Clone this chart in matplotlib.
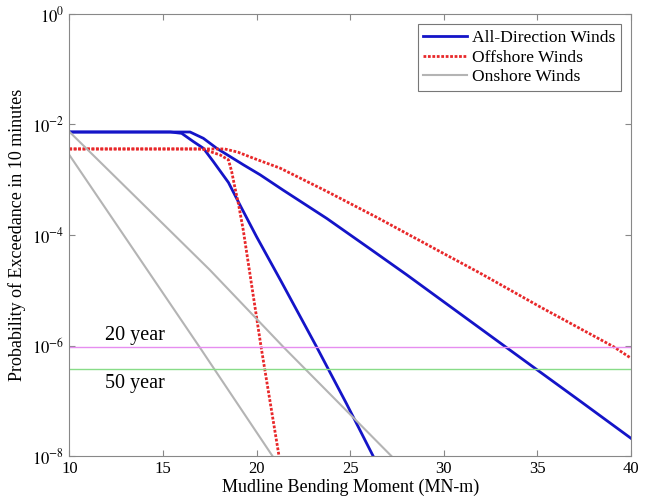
import matplotlib
matplotlib.use("Agg")
import matplotlib.pyplot as plt
import numpy as np

plt.rcParams['font.family'] = ['Liberation Serif', 'DejaVu Serif']
plt.rcParams['mathtext.fontset'] = 'stix'

# all-direction winds (two curves), values as log10 of probability
alldir_steep_x = [10, 15.4, 16.0, 16.63, 17.16, 17.69, 18.5, 19.12, 20.0, 21.3, 23.2, 24.8, 26.3]
alldir_steep_e = [-2.136, -2.136, -2.16, -2.31, -2.43, -2.67, -3.05, -3.46, -4.03, -4.83, -6.02, -7.05, -8.05]
alldir_flat_x = [10, 16.45, 17.16, 17.87, 19.3, 20.19, 21.43, 23.75, 26.06, 28.02, 29.8, 33.2, 34.7, 37.3, 40]
alldir_flat_e = [-2.136, -2.136, -2.25, -2.43, -2.73, -2.91, -3.19, -3.70, -4.25, -4.72, -5.16, -6.0, -6.37, -7.01, -7.68]

# offshore winds
off_steep_x = [10, 17.1, 18.05, 18.5, 18.67, 18.85, 19.03, 19.29, 20.24, 21.2]
off_steep_e = [-2.443, -2.443, -2.55, -2.64, -2.85, -3.15, -3.43, -3.91, -6.02, -8.0]
off_flat_x = [10, 18.3, 19.0, 19.83, 21.26, 23.75, 26.42, 29.8, 31.94, 35.14, 39.06, 40]
off_flat_e = [-2.443, -2.443, -2.5, -2.61, -2.79, -3.21, -3.68, -4.30, -4.69, -5.30, -6.02, -6.23]

# onshore winds
on_a_x = [10, 17.5, 21.5, 27.2]
on_a_e = [-2.13, -4.63, -6.05, -8.0]
on_b_x = [10, 17.0, 20.85]
on_b_e = [-2.55, -6.05, -8.0]

# return period levels
p20 = 1 / (20 * 365.25 * 144)
p50 = 1 / (50 * 365.25 * 144)

fig = plt.figure(figsize=(6.55, 5.03), dpi=100)
ax = fig.add_axes([0.1058, 0.0934, 0.8576, 0.8788])

blue = '#1414c8'
red = '#e8282a'
gray = '#b4b4b4'

ax.semilogy(alldir_steep_x, 10 ** np.array(alldir_steep_e), color=blue, lw=2.0, label='All-Direction Winds')
ax.semilogy(alldir_flat_x, 10 ** np.array(alldir_flat_e), color=blue, lw=2.0)
ax.semilogy(off_steep_x, 10 ** np.array(off_steep_e), color=red, lw=2.0, ls=(0, (1, 0.6)), label='Offshore Winds')
ax.semilogy(off_flat_x, 10 ** np.array(off_flat_e), color=red, lw=2.0, ls=(0, (1, 0.6)))
ax.semilogy(on_a_x, 10 ** np.array(on_a_e), color=gray, lw=1.5, label='Onshore Winds')
ax.semilogy(on_b_x, 10 ** np.array(on_b_e), color=gray, lw=1.5)

ax.axhline(p20, color='#e68ef0', lw=1.0)
ax.axhline(p50, color='#88dc88', lw=1.0)
ax.text(11.88, 10 ** -5.81, '20 year', fontsize=14.5, va='center')
ax.text(11.88, 10 ** -6.68, '50 year', fontsize=14.5, va='center')

ax.set_xlim(10, 40)
ax.set_ylim(1e-8, 1)
ax.set_xticks([10, 15, 20, 25, 30, 35, 40])
ax.set_yticks([1e-8, 1e-6, 1e-4, 1e-2, 1])
ax.set_yticklabels([r'$10^{-8}$', r'$10^{-6}$', r'$10^{-4}$', r'$10^{-2}$', r'$10^{0}$'])
ax.yaxis.set_minor_locator(matplotlib.ticker.NullLocator())
ax.tick_params(direction='in', which='both', top=True, right=True, labelsize=12,
               color='#888888', length=4)
for s in ax.spines.values():
    s.set_color('#888888')

ax.set_xlabel('Mudline Bending Moment (MN-m)', fontsize=13, labelpad=1)
ax.set_ylabel('Probability of Exceedance in 10 minutes', fontsize=13, labelpad=4)

leg = ax.legend(loc='upper right', fontsize=12.6, frameon=True, fancybox=False,
                edgecolor='#555555', handlelength=2.5, borderpad=0.3, labelspacing=0.2,
                handletextpad=0.3, borderaxespad=0.6)
leg.get_frame().set_linewidth(0.8)

fig.savefig('out.png', dpi=100)
